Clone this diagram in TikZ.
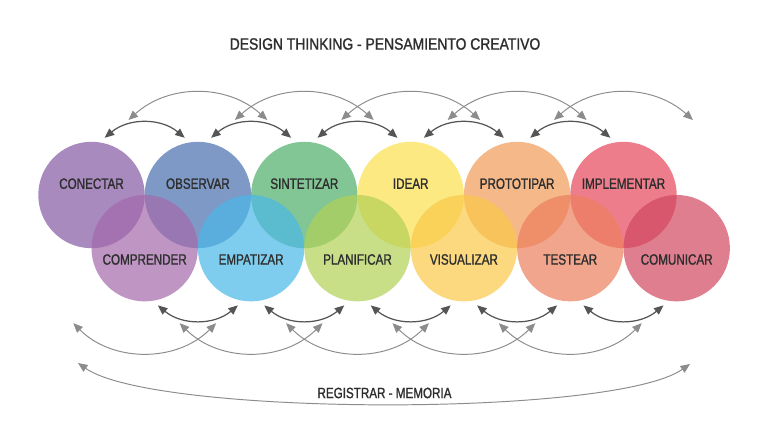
\documentclass[tikz,border=0pt]{standalone}
\usepackage{fontspec}
\setmainfont{Liberation Sans}[FakeStretch=0.78,FakeBold=1.2]
\newfontfamily\titlefont{Liberation Sans}[FakeStretch=0.85,FakeBold=1.2]
\usepackage{tikz}
\usetikzlibrary{arrows.meta,calc,positioning}

\definecolor{conectar}{HTML}{8459A4}
\definecolor{observar}{HTML}{486FAF}
\definecolor{sintetizar}{HTML}{4EAF69}
\definecolor{idear}{HTML}{FCE04E}
\definecolor{prototipar}{HTML}{F19B58}
\definecolor{implementar}{HTML}{E7475B}
\definecolor{comprender}{HTML}{A469AC}
\definecolor{empatizar}{HTML}{4AB8E7}
\definecolor{planificar}{HTML}{B2D055}
\definecolor{visualizar}{HTML}{FBC948}
\definecolor{testear}{HTML}{EC7F5E}
\definecolor{comunicar}{HTML}{D0485F}
\definecolor{txtgray}{HTML}{2E2E2E}
\definecolor{arrdark}{HTML}{555555}
\definecolor{arrgray}{HTML}{8C8C8C}

\tikzset{
  blob/.style={circle, minimum size=21.28mm, inner sep=0pt, outer sep=1.1mm, fill opacity=0.7},
  lbl/.style={text=txtgray, font=\fontsize{8.5}{9}\selectfont},
  titlelbl/.style={text=txtgray, font=\titlefont\fontsize{9.3}{10}\selectfont},
  tip/.tip={Triangle[length=1.9mm,width=1.6mm]}
}

\begin{document}
\begin{tikzpicture}[x=0.2mm,y=0.2mm]
%canvas
    \fill[white] (0,0) rectangle (764,427);
    \useasboundingbox (0,0) rectangle (764,427);
%draw upper circles
    \node[blob, fill=conectar] (t1) at (91.5,232) {};
    \node[blob, fill=observar] (t2) at (197.9,232) {};
    \node[blob, fill=sintetizar] (t3) at (304.3,232) {};
    \node[blob, fill=idear] (t4) at (410.7,232) {};
    \node[blob, fill=prototipar] (t5) at (517.1,232) {};
    \node[blob, fill=implementar] (t6) at (623.5,232) {};
    \coordinate (t7) at (729.9,232);
%draw lower circles
    \coordinate (b0) at (38.3,178.8);
    \node[blob, fill=comprender] (b1) at (144.7,178.8) {};
    \node[blob, fill=empatizar] (b2) at (251.1,178.8) {};
    \node[blob, fill=planificar] (b3) at (357.5,178.8) {};
    \node[blob, fill=visualizar] (b4) at (463.9,178.8) {};
    \node[blob, fill=testear] (b5) at (570.3,178.8) {};
    \node[blob, fill=comunicar] (b6) at (676.7,178.8) {};
%insert circle labels
    \node[lbl] (l1) at ([yshift=2.26mm]t1.center) {CONECTAR};
    \node[lbl] (l2) at ([yshift=2.26mm]t2.center) {OBSERVAR};
    \node[lbl] (l3) at ([yshift=2.26mm]t3.center) {SINTETIZAR};
    \node[lbl] (l4) at ([yshift=2.26mm]t4.center) {IDEAR};
    \node[lbl] (l5) at ([yshift=2.26mm]t5.center) {PROTOTIPAR};
    \node[lbl] (l6) at ([yshift=2.26mm]t6.center) {IMPLEMENTAR};
    \node[lbl] (m1) at ([yshift=-2.26mm]b1.center) {COMPRENDER};
    \node[lbl] (m2) at ([yshift=-2.26mm]b2.center) {EMPATIZAR};
    \node[lbl] (m3) at ([yshift=-2.26mm]b3.center) {PLANIFICAR};
    \node[lbl] (m4) at ([yshift=-2.26mm]b4.center) {VISUALIZAR};
    \node[lbl] (m5) at ([yshift=-2.26mm]b5.center) {TESTEAR};
    \node[lbl] (m6) at ([yshift=-2.26mm]b6.center) {COMUNICAR};
%draw neighbour arrows
    \begin{scope}[every path/.style={draw=arrdark, line width=0.7pt, tip-tip}]
       \draw (t1.77) to[bend left=40] (t2.103);
       \draw (t2.77) to[bend left=40] (t3.103);
       \draw (t3.77) to[bend left=40] (t4.103);
       \draw (t4.77) to[bend left=40] (t5.103);
       \draw (t5.77) to[bend left=40] (t6.103);
       \draw (b1.-77) to[bend right=40] (b2.-103);
       \draw (b2.-77) to[bend right=40] (b3.-103);
       \draw (b3.-77) to[bend right=40] (b4.-103);
       \draw (b4.-77) to[bend right=40] (b5.-103);
       \draw (b5.-77) to[bend right=40] (b6.-103);
    \end{scope}
%draw skip arrows
    \begin{scope}[every path/.style={draw=arrgray, line width=0.55pt, tip-tip}]
       \draw ($(t1.center)+(37,75)$) to[bend left=42] ($(t3.center)+(-37,75)$);
       \draw ($(t2.center)+(37,75)$) to[bend left=42] ($(t4.center)+(-37,75)$);
       \draw ($(t3.center)+(37,75)$) to[bend left=42] ($(t5.center)+(-37,75)$);
       \draw ($(t4.center)+(37,75)$) to[bend left=42] ($(t6.center)+(-37,75)$);
       \draw ($(t5.center)+(37,75)$) to[bend left=42] ($(t7)+(-37,75)$);
       \draw ($(b0)+(35,-75)$) to[bend right=45] ($(b2.center)+(-35,-75)$);
       \draw ($(b1.center)+(35,-75)$) to[bend right=45] ($(b3.center)+(-35,-75)$);
       \draw ($(b2.center)+(35,-75)$) to[bend right=45] ($(b4.center)+(-35,-75)$);
       \draw ($(b3.center)+(35,-75)$) to[bend right=45] ($(b5.center)+(-35,-75)$);
       \draw ($(b4.center)+(35,-75)$) to[bend right=45] ($(b6.center)+(-35,-75)$);
%draw memory arrow
       \coordinate (r1) at (78,64);
       \coordinate (r2) at (690,63);
       \draw (r1) to[out=-35,in=215,looseness=0.39] (r2);
    \end{scope}
%insert figure labels
    \node[lbl] (reg) at (384.5,34) {REGISTRAR - MEMORIA};
    \node[titlelbl] (title) at (385,383) {DESIGN THINKING - PENSAMIENTO CREATIVO};
\end{tikzpicture}
\end{document}
